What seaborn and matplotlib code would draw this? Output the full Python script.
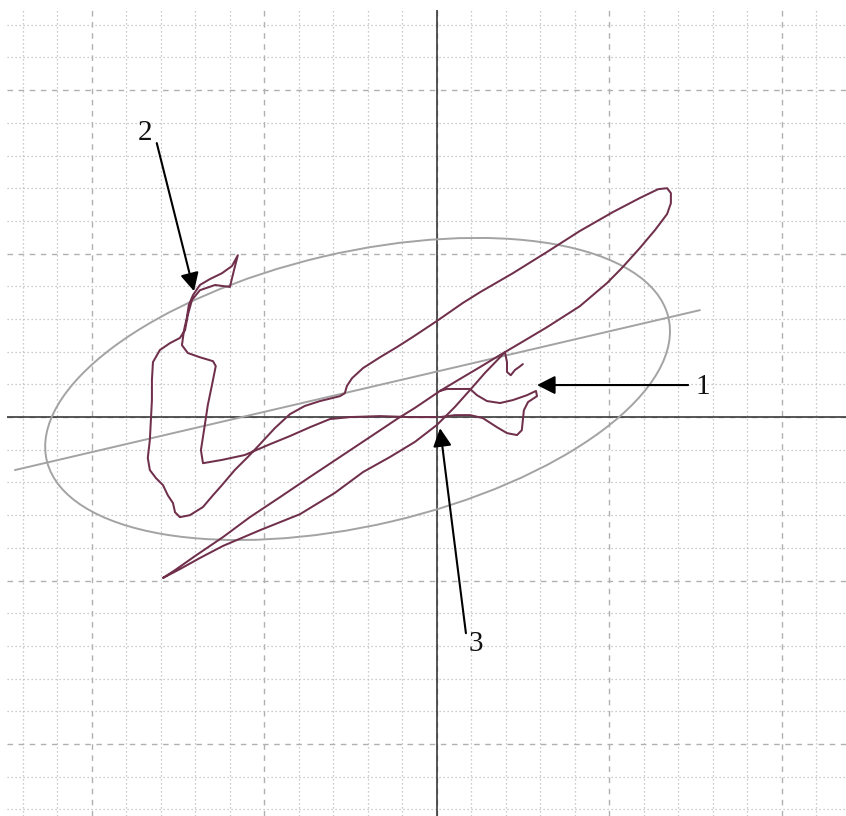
import numpy as np
import pandas as pd
import seaborn as sns
import matplotlib
matplotlib.use("Agg")
import matplotlib.pyplot as plt
from matplotlib.patches import Ellipse
from matplotlib.ticker import MultipleLocator, NullFormatter

# ---- trajectory: closed lobe through the left blob, the long loop and the flag ----
loop_x = [0.00, -0.78, -1.65, -2.52, -3.10, -3.68, -4.26, -4.84, -5.57, -6.23,
          -6.78, -6.84, -6.75, -6.64, -6.52, -6.41, -6.49, -6.87, -7.22, -7.39,
          -7.33, -7.25, -7.19, -7.07, -6.87, -6.58, -6.23, -5.94, -5.77, -5.88,
          -6.00, -6.43, -6.87, -7.10, -7.22, -7.30, -7.45, -7.74, -8.03, -8.23,
          -8.26, -8.26, -8.29, -8.32, -8.38, -8.32, -8.14, -7.94, -7.80, -7.65,
          -7.59, -7.45, -7.16, -6.78, -6.49, -6.23, -5.86, -5.48, -5.13, -4.70,
          -4.26, -3.83, -3.39, -2.81, -2.67, -2.61, -2.46, -2.14, -1.65, -1.16,
          -0.70, 0.00, 0.75, 1.25, 2.20, 3.19, 4.14, 5.10, 5.88, 6.41,
          6.67, 6.78, 6.78, 6.67, 6.32, 5.88, 5.36, 4.93, 4.14, 3.19,
          2.41, 1.83, 1.25, 0.61, 0.09, 0.29, 0.96, 1.16, 1.45, 1.83,
          2.20, 2.61, 2.87, 2.90, 2.64, 2.52, 2.49, 2.46, 2.32, 2.03,
          1.74, 1.33, 0.96, 0.52, 0.09]
loop_y = [0.00, 0.00, 0.03, 0.00, -0.06, -0.31, -0.58, -0.83, -1.16, -1.31,
          -1.41, -1.01, -0.40, 0.37, 0.98, 1.56, 1.71, 1.83, 1.96, 2.20,
          2.66, 3.03, 3.43, 3.73, 4.04, 4.22, 4.40, 4.62, 4.95, 4.50,
          3.98, 4.04, 3.88, 3.58, 3.12, 2.66, 2.42, 2.26, 2.05, 1.68,
          1.13, 0.52, -0.09, -0.70, -1.25, -1.62, -1.87, -2.08, -2.39, -2.63,
          -2.91, -3.06, -3.00, -2.75, -2.39, -2.08, -1.62, -1.22, -0.83, -0.34,
          0.09, 0.34, 0.49, 0.64, 0.73, 0.95, 1.19, 1.50, 1.83, 2.14,
          2.45, 2.94, 3.49, 3.82, 4.40, 5.05, 5.69, 6.27, 6.70, 6.97,
          7.00, 6.85, 6.54, 6.21, 5.72, 5.17, 4.56, 4.10, 3.39, 2.75,
          2.26, 1.90, 1.53, 1.13, 0.80, 0.86, 0.86, 0.67, 0.49, 0.43,
          0.52, 0.67, 0.80, 0.64, 0.46, 0.21, -0.09, -0.40, -0.55, -0.49,
          -0.31, -0.03, 0.06, 0.06, 0.00]

# ---- trajectory: narrow lower-left lobe ----
lobe_x = [0.09, -0.64, -1.16, -1.94, -2.81, -3.68, -4.55, -5.42, -6.20, -7.01,
          -7.59, -7.94, -7.45, -6.87, -6.20, -5.13, -3.97, -2.96, -2.14, -1.36,
          -0.64, 0.00, 0.52, 0.96, 1.39, 1.83, 1.97, 2.03, 2.03, 2.14,
          2.26, 2.38, 2.49]
lobe_y = [0.80, 0.28, -0.06, -0.61, -1.22, -1.83, -2.45, -3.06, -3.67, -4.25,
          -4.68, -4.92, -4.65, -4.31, -3.94, -3.46, -2.97, -2.32, -1.68, -1.22,
          -0.76, -0.24, 0.31, 0.83, 1.35, 1.83, 1.99, 1.68, 1.38, 1.28,
          1.44, 1.53, 1.62]

# ---- fitted line and ellipse ----
fit_x = [-12.23, 7.62]
fit_y = [-1.62, 3.27]
ell_center = (-2.30, 0.86)
ell_semi_axes = (9.27, 4.17)
ell_angle = 13.9

# ---- annotations: label, label position, arrow tail, arrow tip ----
ann_labels = ["1", "2", "3"]
ann_text_xy = [(7.71, 0.93), (-8.46, 8.69), (1.13, -6.94)]
ann_tail_xy = [(7.28, 0.98), (-8.12, 8.38), (0.84, -6.61)]
ann_tip_xy = [(2.90, 0.98), (-7.04, 3.85), (0.09, -0.34)]

sns.set_theme(style="white")
plt.rcParams["font.family"] = ["Liberation Serif", "DejaVu Serif"]

fig = plt.figure(figsize=(8.46, 8.16), dpi=100)
ax = fig.add_axes([7 / 846, 0, 839 / 846, 806 / 816])
ax.set_xlim(-12.46, 11.855)
ax.set_ylim(-12.20, 12.45)

# grid: dotted every unit, dashed every five units
ax.xaxis.set_major_locator(MultipleLocator(5))
ax.xaxis.set_minor_locator(MultipleLocator(1))
ax.yaxis.set_major_locator(MultipleLocator(5))
ax.yaxis.set_minor_locator(MultipleLocator(1))
ax.grid(which="minor", color="#bababa", lw=0.9, ls=(0, (1, 2.2)))
ax.grid(which="major", color="#b0b0b0", lw=1.0, ls=(0, (4, 4)))
ax.xaxis.set_major_formatter(NullFormatter())
ax.yaxis.set_major_formatter(NullFormatter())
ax.tick_params(which="both", length=0)
for s in ax.spines.values():
    s.set_visible(False)
ax.set_axisbelow(True)

# coordinate axes
ax.axhline(0, color="#3a3a3a", lw=1.2, zorder=2)
ax.axvline(0, color="#3a3a3a", lw=1.2, zorder=2)

# ellipse and fitted line
ax.add_patch(Ellipse(ell_center, 2 * ell_semi_axes[0], 2 * ell_semi_axes[1],
                     angle=ell_angle, fill=False, ec="#a3a3a3", lw=1.4, zorder=3))
sns.lineplot(x=fit_x, y=fit_y, ax=ax, color="#a3a3a3", lw=1.4, sort=False, zorder=3)

# trajectory
trace = pd.concat([
    pd.DataFrame({"x": loop_x, "y": loop_y, "seg": "a"}),
    pd.DataFrame({"x": lobe_x, "y": lobe_y, "seg": "b"}),
], ignore_index=True)
sns.lineplot(data=trace, x="x", y="y", units="seg", estimator=None, sort=False,
             ax=ax, color="#70304c", lw=1.45, zorder=4)

# numbered arrows
for lab, txy, tail, tip in zip(ann_labels, ann_text_xy, ann_tail_xy, ann_tip_xy):
    ax.annotate("", xy=tip, xytext=tail,
                arrowprops=dict(arrowstyle="-|>,head_length=0.55,head_width=0.28",
                                color="black", lw=1.5, mutation_scale=20,
                                shrinkA=0, shrinkB=0), zorder=5)
    ax.text(txy[0], txy[1], lab, fontsize=21, color="#111111",
            ha="center", va="center", zorder=5)

ax.set_xlabel("")
ax.set_ylabel("")
fig.savefig("out.png", dpi=100, facecolor="white")
